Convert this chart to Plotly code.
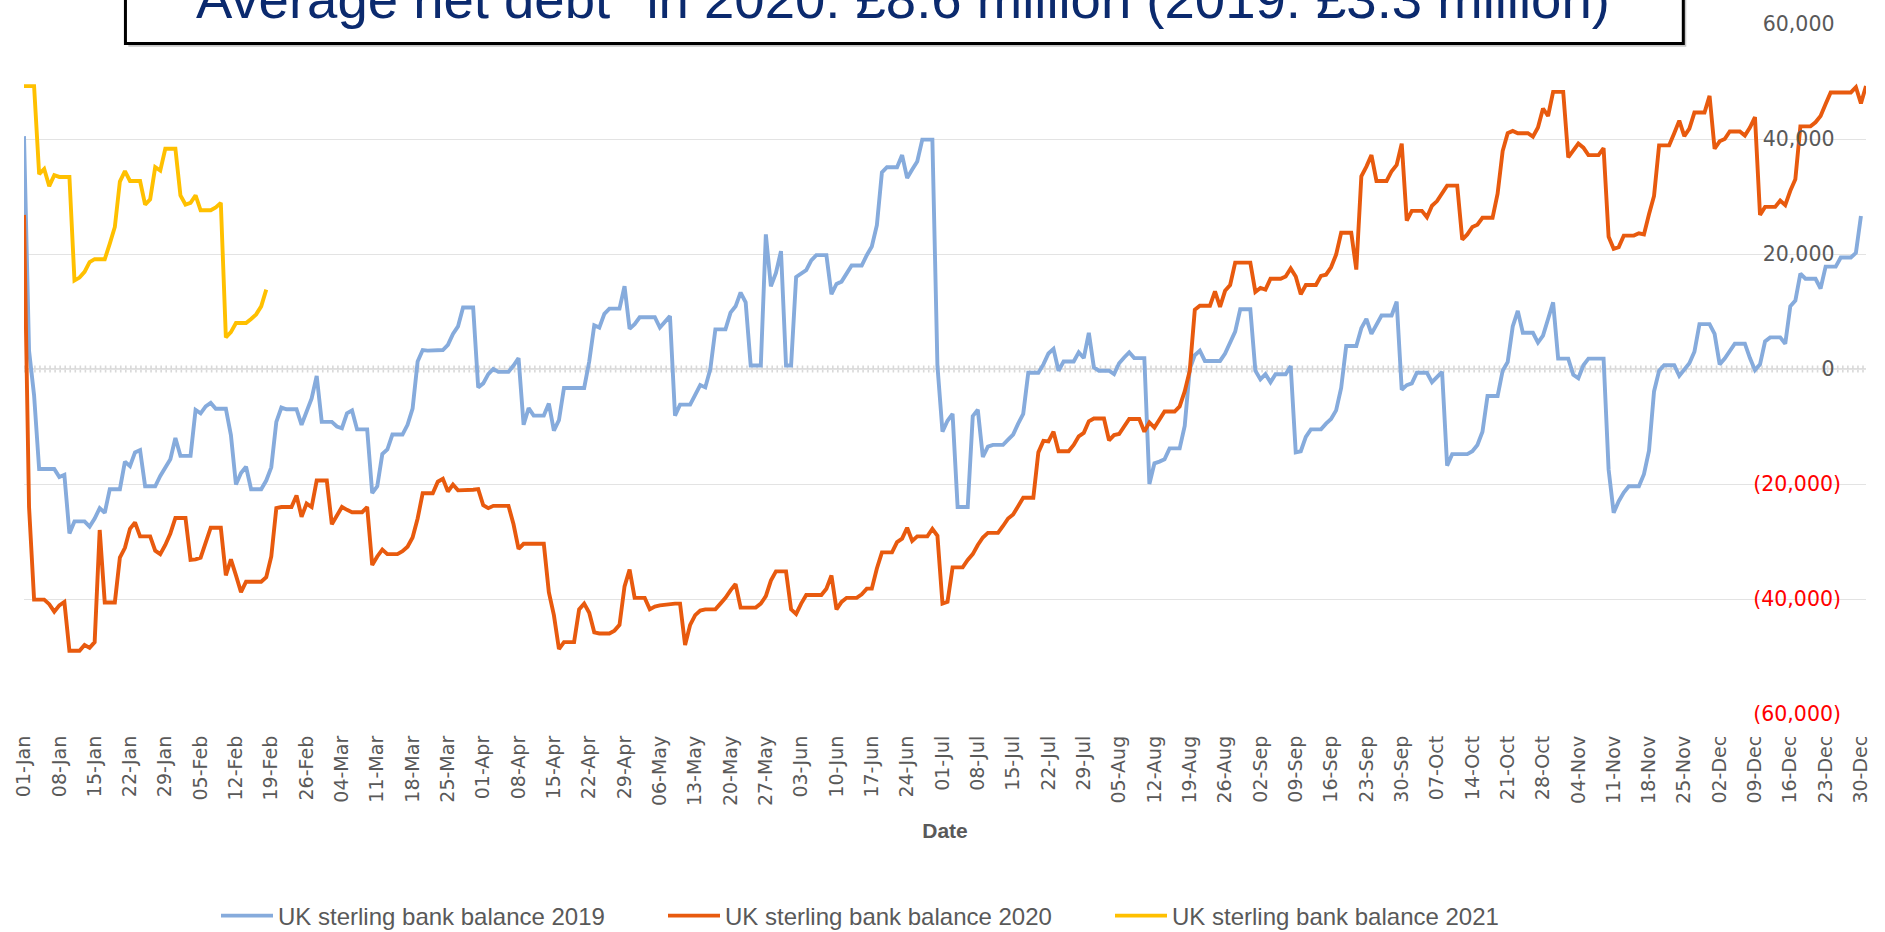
import pandas as pd
import plotly.graph_objects as go

# ------------------------------------------------------------------ data
# daily category axis (calendar of 2020, shown as dd-Mon)
dates = pd.date_range("2020-01-01", "2020-12-31", freq="D")

series_names = ["UK sterling bank balance 2019",
                "UK sterling bank balance 2020",
                "UK sterling bank balance 2021"]

balance_2019 = [
    40500, 3200, -4600, -17400, -17400, -17400, -17400, -18800, -18400, -28600,
    -26500, -26500, -26500, -27400, -26000, -24200, -25000, -20900, -20900, -20900,
    -16100, -16900, -14500, -14100, -20400, -20400, -20400, -18600, -17100, -15700,
    -12000, -15100, -15100, -15100, -7100, -7700, -6500, -5900, -6900, -6900,
    -6900, -11500, -20100, -18100, -17000, -20900, -20900, -20900, -19400, -17100,
    -9200, -6700, -7000, -7000, -7000, -9700, -7400, -5100, -1200, -9200,
    -9200, -9200, -10000, -10300, -7700, -7200, -10500, -10500, -10500, -21600,
    -20400, -14800, -14000, -11400, -11400, -11400, -9700, -6900, 1300, 3300,
    3200, 3200, 3200, 3300, 4200, 6100, 7400, 10700, 10700, 10700,
    -3200, -2500, -900, 0, -500, -500, -500, 600, 1900, -9700,
    -6800, -8100, -8100, -8100, -6000, -10700, -8900, -3300, -3300, -3300,
    -3300, -3300, 1300, 7600, 7200, 9600, 10500, 10500, 10500, 14400,
    7000, 7800, 9000, 9000, 9000, 9000, 7200, 8100, 9200, -8100,
    -6200, -6200, -6200, -4500, -2800, -3200, 0, 6900, 6900, 6900,
    9800, 10900, 13300, 11600, 600, 600, 600, 23400, 14400, 16700,
    20500, 600, 600, 16000, 16700, 17200, 18900, 19800, 19800, 19800,
    13000, 14800, 15200, 16700, 18000, 18000, 18000, 19800, 21300, 25000,
    34200, 35100, 35100, 35100, 37200, 33200, 34700, 36100, 39900, 39900,
    39900, 600, -10900, -9000, -7800, -24000, -24000, -24000, -8200, -7100,
    -15300, -13500, -13200, -13200, -13200, -12300, -11400, -9500, -7800, -650,
    -650, -650, 800, 2700, 3500, -300, 1300, 1300, 1300, 2900,
    1900, 6300, 300, -300, -300, -300, -900, 1000, 2000, 2900,
    1900, 1900, 1900, -20000, -16400, -16100, -15700, -13800, -13800, -13800,
    -9900, 0, 2400, 3200, 1400, 1400, 1400, 1400, 2700, 4500,
    6500, 10400, 10400, 10400, -300, -1800, -900, -2300, -900, -900,
    -900, 500, -14500, -14300, -11800, -10500, -10500, -10500, -9500, -8700,
    -7200, -3300, 4000, 4000, 4000, 7100, 8700, 6100, 7700, 9300,
    9300, 9300, 11700, -3600, -2800, -2500, -650, -650, -650, -2300,
    -1300, -500, -16800, -14800, -14800, -14800, -14800, -14300, -13200, -10900,
    -4700, -4700, -4700, -300, 1200, 7400, 10100, 6300, 6300, 6300,
    4600, 5800, 8700, 11600, 1800, 1800, 1800, -1000, -1600, 650,
    1800, 1800, 1800, 1800, -17500, -25000, -23000, -21500, -20400, -20400,
    -20400, -18300, -14200, -3900, -300, 650, 650, 650, -1200, 0,
    1000, 3000, 7800, 7800, 7800, 6100, 800, 1800, 3200, 4400,
    4400, 4400, 1900, -200, 800, 4800, 5500, 5500, 5500, 4400,
    10900, 11900, 16600, 15700, 15700, 15700, 14000, 17800, 17800, 17800,
    19400, 19400, 19400, 20200, 26600,
]

balance_2020 = [
    26800, -24000, -40100, -40100, -40100, -40900, -42200, -41100, -40500, -49000,
    -49000, -49000, -48000, -48500, -47500, -28000, -40600, -40600, -40600, -32800,
    -31100, -27800, -26700, -29100, -29100, -29100, -31600, -32200, -30600, -28600,
    -25900, -25900, -25900, -33200, -33100, -32800, -30300, -27600, -27600, -27600,
    -35900, -33100, -35900, -38800, -37000, -37000, -37000, -37000, -36200, -32600,
    -24200, -24000, -24000, -24000, -22000, -25700, -23400, -24000, -19400, -19400,
    -19400, -27000, -25500, -24000, -24500, -24900, -24900, -24900, -24000, -34100,
    -32600, -31400, -32200, -32200, -32200, -31700, -30900, -29300, -26000, -21600,
    -21600, -21600, -19600, -19100, -21300, -20100, -21100, -21100, -21100, -21000,
    -20900, -23700, -24200, -23800, -23800, -23800, -23800, -27000, -31300, -30400,
    -30400, -30400, -30400, -30400, -38800, -42800, -48700, -47500, -47500, -47500,
    -41800, -40800, -42400, -45800, -46000, -46000, -46000, -45500, -44500, -37800,
    -34900, -39800, -39800, -39800, -41800, -41300, -41100, -41000, -40800, -40800,
    -40800, -48000, -44500, -42800, -42000, -41800, -41800, -41800, -40800, -39800,
    -38500, -37400, -41500, -41500, -41500, -41500, -40800, -39500, -36800, -35200,
    -35200, -35200, -41800, -42600, -40800, -39300, -39300, -39300, -39300, -38200,
    -35900, -41800, -40500, -39800, -39800, -39800, -39200, -38200, -38200, -34700,
    -31900, -31900, -31900, -30100, -29500, -27600, -29900, -29100, -29100, -29100,
    -27800, -29000, -40800, -40500, -34500, -34500, -34500, -33200, -32200, -30600,
    -29300, -28500, -28500, -28500, -27300, -26000, -25300, -24000, -22400, -22400,
    -22400, -14500, -12500, -12600, -10900, -14300, -14300, -14300, -13200, -11700,
    -11100, -9100, -8600, -8600, -8600, -12400, -11500, -11300, -9900, -8700,
    -8700, -8700, -10900, -9300, -10200, -8700, -7400, -7400, -7400, -6500,
    -3900, -300, 10300, 11000, 11000, 11000, 13500, 10800, 13600, 14600,
    18500, 18500, 18500, 18500, 13400, 14100, 13800, 15700, 15700, 15700,
    16100, 17500, 16100, 13000, 14600, 14600, 14600, 16200, 16400, 17700,
    19900, 23700, 23700, 23700, 17300, 33500, 35200, 37200, 32700, 32700,
    32700, 34400, 35500, 39200, 25800, 27500, 27500, 27500, 26400, 28400,
    29200, 30500, 31900, 31900, 31900, 22500, 23400, 24700, 25100, 26300,
    26300, 26300, 30500, 37900, 41000, 41400, 41000, 41000, 41000, 40400,
    42000, 45300, 44000, 48200, 48200, 48200, 36800, 38100, 39200, 38500,
    37200, 37200, 37200, 38400, 23000, 20900, 21200, 23200, 23200, 23200,
    23600, 23400, 26900, 30100, 38900, 38900, 38900, 41000, 43200, 40500,
    41800, 44600, 44600, 44600, 47500, 38300, 39600, 40000, 41300, 41300,
    41300, 40600, 42000, 43800, 26800, 28200, 28200, 28200, 29300, 28500,
    31000, 33000, 42200, 42200, 42200, 42900, 44000, 46100, 48100, 48100,
    48100, 48100, 48100, 49000, 46200, 49200,
]

balance_2021 = [
    49200, 49200, 49200, 33900, 34800, 31800, 33700, 33400, 33400, 33400,
    15400, 15900, 16900, 18600, 19100, 19100, 19100, 21800, 24700, 32600,
    34400, 32700, 32700, 32700, 28600, 29500, 35100, 34500, 38300, 38300,
    38300, 30200, 28600, 28900, 30200, 27600, 27600, 27600, 28100, 28900,
    5500, 6400, 8000, 8000, 8000, 8700, 9500, 10900, 13800,
]

y_tick_values = [-60000, -40000, -20000, 0, 20000, 40000, 60000]
y_tick_labels = ["(60,000)", "(40,000)", "(20,000)", "0", "20,000", "40,000", "60,000"]

title_text = "Average net debt* in 2020: £8.6 million (2019: £3.3 million)"
x_title = "Date"

# ------------------------------------------------------------------ styling
W, H = 1885, 932
L, R, T, B = 21, 19, 20.5, 218
PW, PH = W - L - R, H - T - B


def px_x(px):
    return (px - L) / PW


def px_y(py):
    return (H - B - py) / PH


colors = ["#86ABDC", "#E85A0E", "#FFC000"]
GREY_TXT = "#595959"

y_ticktext = []
for v, lab in zip(y_tick_values, y_tick_labels):
    if v < 0:
        y_ticktext.append("<span style='color:#FF0000'>" + lab + "</span>")
    else:
        y_ticktext.append(lab + "\u00a0")

fig = go.Figure()
for name, vals, col in zip(series_names, [balance_2019, balance_2020, balance_2021], colors):
    fig.add_trace(go.Scatter(
        x=dates[:len(vals)], y=vals, mode="lines", name=name,
        line=dict(color=col, width=3.9), hoverinfo="skip",
    ))

shapes = [
    # zero axis line with daily tick marks
    dict(type="line", xref="paper", x0=0, x1=1, yref="y", y0=0, y1=0,
         line=dict(color="#d4d4d4", width=1.6), layer="between"),
    dict(type="line", xref="paper", x0=0, x1=1, yref="y", y0=0, y1=0,
         line=dict(color="#d9d9d9", width=7, dash="1.6px,3.45px"), layer="between"),
    # title box shadow + box
    dict(type="rect", xref="paper", yref="paper",
         x0=px_x(125.5), x1=px_x(1686), y0=px_y(43.3), y1=px_y(-80),
         fillcolor="#c8c8c8", line=dict(width=0), layer="above"),
    dict(type="rect", xref="paper", yref="paper",
         x0=px_x(122.6), x1=px_x(1683), y0=px_y(40), y1=px_y(-80),
         fillcolor="white", line=dict(color="black", width=3), layer="above"),
]

annotations = [
    dict(text=title_text, xref="paper", yref="paper", x=px_x(901.5), y=px_y(29),
         xanchor="center", yanchor="bottom", showarrow=False,
         font=dict(family="Liberation Sans", size=54.5, color="#0B2A6E")),
]

fig.update_layout(
    width=W, height=H,
    margin=dict(l=L, r=R, t=T, b=B, pad=0),
    paper_bgcolor="white", plot_bgcolor="white",
    showlegend=True,
    shapes=shapes, annotations=annotations,
    xaxis=dict(
        type="date", range=[dates[0], dates[-1]],
        tick0=dates[0], dtick=7 * 86400000, tickformat="%d-%b", tickangle=-90,
        showgrid=False, zeroline=False, showline=False, ticks="",
        tickfont=dict(family="DejaVu Sans", size=19, color=GREY_TXT),
        ticklabelstandoff=17,
        title=dict(text="<b>" + x_title + "</b>", standoff=18,
                   font=dict(family="Liberation Sans", size=21, color=GREY_TXT)),
    ),
    yaxis=dict(
        range=[-60000, 60000], side="right", ticklabelposition="inside",
        ticklabeloverflow="allow", ticklabelstandoff=22,
        tickvals=y_tick_values, ticktext=y_ticktext,
        showgrid=True, gridcolor="#e3e3e3", gridwidth=1.4,
        zeroline=False, showline=False, ticks="",
        tickfont=dict(family="DejaVu Sans", size=20.5, color=GREY_TXT),
    ),
    legend=dict(
        orientation="h", xref="container", yref="container",
        x=216 / W, y=16 / H, xanchor="left", yanchor="middle",
        font=dict(family="Liberation Sans", size=24, color=GREY_TXT),
        itemwidth=52, traceorder="normal",
        entrywidth=380, entrywidthmode="pixels",
    ),
)

fig.write_html("out.html",
               config={"displayModeBar": False},
               post_script="document.body.style.margin='0';document.body.style.overflow='hidden';")
